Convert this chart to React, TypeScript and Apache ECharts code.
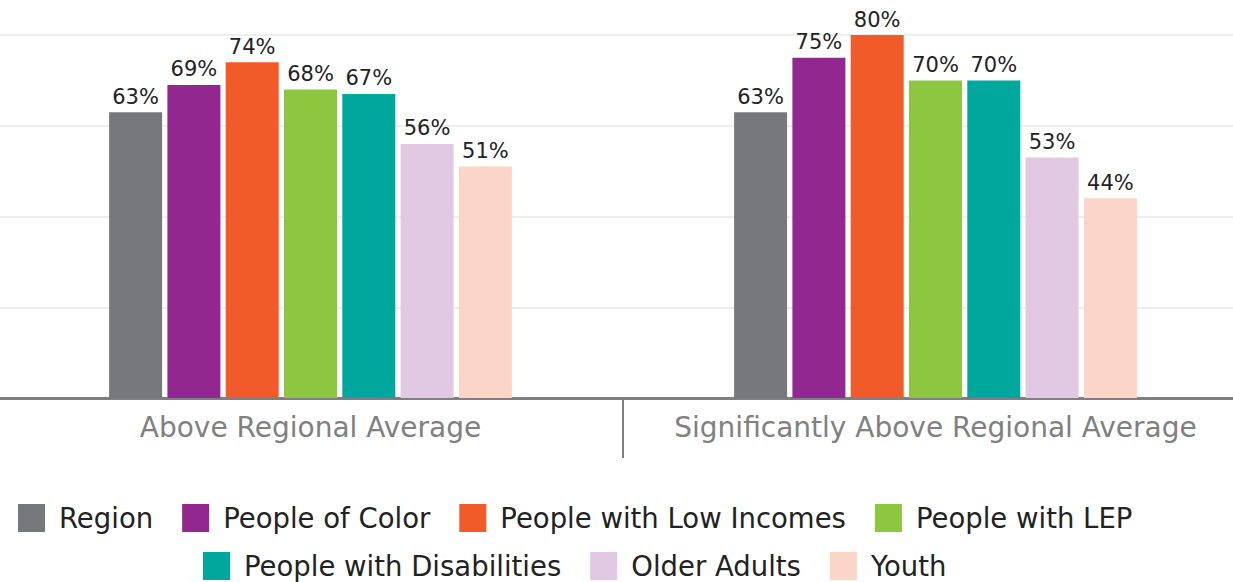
import React, { useEffect, useRef } from "react";
import * as echarts from "echarts";

const categories = ["Above Regional Average", "Significantly Above Regional Average"];
const seriesNames = [
  "Region",
  "People of Color",
  "People with Low Incomes",
  "People with LEP",
  "People with Disabilities",
  "Older Adults",
  "Youth",
];
const region = [63, 63];
const peopleOfColor = [69, 75];
const lowIncomes = [74, 80];
const lep = [68, 70];
const disabilities = [67, 70];
const olderAdults = [56, 53];
const youth = [51, 44];
const seriesValues = [region, peopleOfColor, lowIncomes, lep, disabilities, olderAdults, youth];
const colors = ["#77787b", "#92278f", "#f15a29", "#8dc63f", "#00a79d", "#e2c9e3", "#fbd5c8"];
const yTicks = [0, 20, 40, 60, 80];

const FONT = "'DejaVu Sans', 'Noto Sans', sans-serif";

export default function App() {
  const ref = useRef<HTMLDivElement>(null);
  useEffect(() => {
    if (!ref.current) return;
    const chart = echarts.init(ref.current, undefined, { renderer: "svg" });
    const legendText = {
      fontFamily: FONT,
      fontSize: 27.5,
      color: "#222222",
      padding: [0, 0, 0, 9],
    };
    chart.setOption({
      animation: false,
      textStyle: { fontFamily: FONT },
      grid: { left: 0, right: 0, top: 35, bottom: 184, containLabel: false },
      legend: [
        {
          data: seriesNames.slice(0, 4),
          left: 20,
          top: 504,
          padding: 0,
          itemWidth: 27,
          itemHeight: 28,
          itemGap: 29,
          icon: "rect",
          textStyle: legendText,
        },
        {
          data: seriesNames.slice(4),
          left: 205,
          top: 552,
          padding: 0,
          itemWidth: 27,
          itemHeight: 28,
          itemGap: 29,
          icon: "rect",
          textStyle: legendText,
        },
      ],
      xAxis: {
        type: "category",
        data: categories,
        axisLine: { show: true, lineStyle: { color: "#7f7f7f", width: 3 } },
        axisTick: {
          show: true,
          interval: 0,
          length: 60,
          lineStyle: { color: "#7f7f7f", width: 2 },
        },
        axisLabel: {
          color: "#808080",
          fontSize: 28,
          margin: 15,
          interval: 0,
          fontFamily: FONT,
        },
      },
      yAxis: {
        type: "value",
        min: yTicks[0],
        max: yTicks[yTicks.length - 1],
        interval: 20,
        axisLine: { show: false },
        axisTick: { show: false },
        axisLabel: { show: false },
        splitLine: { show: true, lineStyle: { color: "#eeeeee", width: 2 } },
      },
      series: seriesNames.map((name, i) => ({
        name,
        type: "bar",
        data: seriesValues[i],
        barWidth: 53,
        barGap: "10%",
        itemStyle: { color: colors[i] },
        label: {
          show: true,
          position: "top",
          distance: 5,
          formatter: "{c}%",
          color: "#222222",
          fontSize: 21,
          fontFamily: FONT,
        },
      })),
    });
    return () => chart.dispose();
  }, []);
  return (
    <div
      ref={ref}
      style={{ position: "fixed", left: -2, top: 0, width: 1250, height: 582, background: "#fff" }}
    />
  );
}
